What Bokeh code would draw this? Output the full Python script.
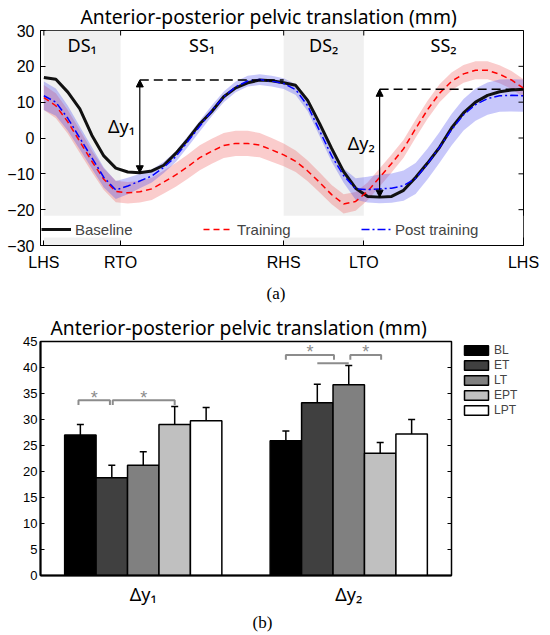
import numpy as np
from bokeh.plotting import figure
from bokeh.layouts import column
from bokeh.models import (Range1d, FixedTicker, Legend, LegendItem, Title,
                          Arrow, NormalHead, TeeHead, Whisker, ColumnDataSource)
from bokeh.core.properties import value
from bokeh.embed import file_html
from bokeh.resources import INLINE

# ---------------- panel (a) data ----------------
gait_pct = [0, 2.5, 5, 7.5, 10, 12.5, 15, 17.5, 20, 22.5, 25, 27.5, 30, 32.5, 35, 37.5,
            40, 42.5, 45, 47.5, 50, 52.5, 55, 57.5, 60, 62.5, 65, 67.5, 70, 72.5, 75,
            77.5, 80, 82.5, 85, 87.5, 90, 92.5, 95, 97.5, 100]
baseline = [16.9, 16.4, 12.8, 8.1, 0.8, -5.0, -8.4, -9.5, -9.7, -9.2, -7.6, -4.3, -0.4,
            3.9, 7.4, 11.5, 14.0, 15.4, 16.2, 16.0, 15.4, 14.7, 10.5, 4.0, -2.9, -9.4,
            -14.0, -16.3, -16.5, -16.3, -14.6, -11.0, -7.0, -2.6, 2.8, 7.0, 10.0, 11.9,
            12.9, 13.4, 13.6]
training = [11.3, 9.0, 4.5, -1.0, -6.5, -11.5, -14.9, -15.3, -15.0, -14.2, -12.3, -10.3,
            -8.0, -5.5, -3.7, -2.1, -1.5, -1.5, -2.0, -3.3, -4.7, -6.5, -9.2, -12.4,
            -15.8, -18.4, -17.7, -14.9, -11.0, -7.1, -3.0, 2.6, 7.9, 12.5, 15.8, 17.9,
            18.9, 18.9, 17.8, 16.2, 13.9]
training_sd = [3.5, 3.5, 3.3, 3.2, 3.0, 3.0, 3.0, 3.0, 3.0, 3.1, 3.2, 3.3, 3.4, 3.5, 3.5,
               3.5, 3.5, 3.5, 3.4, 3.3, 3.2, 3.0, 2.9, 2.8, 2.7, 2.7, 2.6, 2.5, 2.5, 2.5,
               2.5, 2.5, 2.5, 2.5, 2.5, 2.5, 2.5, 2.5, 2.5, 2.5, 2.5]
post = [11.8, 10.0, 5.5, 0.0, -5.5, -11.0, -14.5, -13.4, -12.0, -10.6, -8.2, -5.2, -1.0,
        3.3, 7.6, 11.5, 14.3, 15.9, 16.3, 15.9, 15.2, 13.5, 9.0, 2.0, -5.0, -10.5,
        -14.2, -14.4, -14.2, -14.0, -13.3, -11.3, -7.2, -2.6, 2.3, 6.5, 9.3, 11.0, 11.8,
        11.9, 11.8]
post_sd = [4.0, 3.8, 3.5, 3.2, 3.0, 2.8, 2.5, 2.3, 2.0, 1.8, 1.6, 1.5, 1.5, 1.5, 1.5,
           1.5, 1.5, 1.5, 1.5, 1.5, 1.5, 1.5, 1.5, 1.5, 1.6, 2.0, 3.0, 3.6, 4.0, 4.1,
           4.2, 4.3, 4.3, 4.3, 4.4, 4.4, 4.5, 4.5, 4.5, 4.5, 4.5]
event_pos = [0, 16, 50, 66.7, 100]
event_labels = ["LHS", "RTO", "RHS", "LTO", "LHS"]
phase_labels = ["DS\u2081", "SS\u2081", "DS\u2082", "SS\u2082"]
y_ticks_a = [-30, -20, -10, 0, 10, 20, 30]
legend_labels_a = ["Baseline", "Training", "Post training"]

# ---------------- panel (b) data ----------------
series = ["BL", "ET", "LT", "EPT", "LPT"]
bar_colors = ["#000000", "#404040", "#808080", "#c0c0c0", "#ffffff"]
group_labels = ["\u0394y\u2081", "\u0394y\u2082"]
dy1_mean = [27.0, 18.8, 21.2, 29.05, 29.75]
dy1_err = [2.05, 2.4, 2.6, 3.45, 2.55]
dy2_mean = [25.9, 33.2, 36.7, 23.5, 27.2]
dy2_err = [1.9, 3.6, 3.7, 2.1, 2.8]
y_ticks_b = [0, 5, 10, 15, 20, 25, 30, 35, 40, 45]
# significance brackets: group, from bar, to bar, level
sig_group = [1, 1, 2, 2]
sig_from = [-0.06, 1.03, 0.0, 2.05]
sig_to = [0.94, 3.0, 1.53, 3.03]
sig_level = [33.7, 33.7, 42.4, 42.4]
join_group, join_from, join_to, join_level = 2, 1.0, 2.0, 40.8

TITLE = "Anterior-posterior pelvic translation (mm)"
TICK_FONT = "Liberation Sans"
SANS = "Noto Sans"
SERIF = "Liberation Serif"


def style_axis(ax, font_size, standoff, tick_in=5, font=TICK_FONT, width=1):
    ax.major_tick_in = tick_in
    ax.major_tick_out = 0
    ax.minor_tick_line_color = None
    ax.axis_line_color = "black"
    ax.axis_line_width = width
    ax.major_tick_line_color = "black"
    ax.major_label_standoff = standoff
    ax.major_label_text_font = font
    ax.major_label_text_font_size = font_size
    ax.major_label_text_color = "black"


def style_title(p, offset):
    t = p.title
    t.text = TITLE
    t.align = "left"
    t.offset = offset
    t.vertical_align = "middle"
    t.standoff = 0
    t.text_font = SANS
    t.text_font_size = "19.3px"
    t.text_font_style = "normal"
    t.text_color = "black"


def add_caption(p, text, offset, standoff):
    p.add_layout(Title(text=text, align="left", offset=offset, vertical_align="middle",
                       standoff=standoff, text_font=SERIF, text_font_size="17px",
                       text_font_style="normal", text_color="black"), "below")


# ================= figure (a) =================
xa0, xa1 = -0.7, 100
pa = figure(frame_width=483, frame_height=215, x_range=Range1d(xa0, xa1),
            y_range=Range1d(y_ticks_a[0], y_ticks_a[-1]), title=TITLE,
            output_backend="svg", toolbar_location=None,
            min_border_left=40, min_border_right=19, min_border_top=30, min_border_bottom=66)
style_title(pa, 40)
pa.xgrid.grid_line_color = None
pa.ygrid.grid_line_color = None
pa.outline_line_color = "black"

# double-support shading, broken by the legend band
ds_left = [event_pos[0], event_pos[2]]
ds_right = [event_pos[1], event_pos[3]]
pa.quad(left=ds_left, right=ds_right, bottom=y_ticks_a[0], top=y_ticks_a[-1],
        fill_color="#f0f0f0", line_color=None)
pa.quad(left=[xa0], right=[xa1], bottom=[-27.8], top=[-21.7], fill_color="white",
        line_color=None)

# phase labels
phase_x = [(a + b) / 2 for a, b in zip(event_pos[:-1], event_pos[1:])]
pa.text(x=phase_x, y=[26] * 4, text=phase_labels, text_align="center",
        text_baseline="middle", text_font=value(SANS), text_font_size="18px",
        text_color="black")

g = np.array(gait_pct)
tr = np.array(training); trs = np.array(training_sd)
po = np.array(post); pos_ = np.array(post_sd)
pa.varea(x=g, y1=tr - trs, y2=tr + trs, fill_color="#ee5555", fill_alpha=0.3)
pa.varea(x=g, y1=po - pos_, y2=po + pos_, fill_color="#4444ee", fill_alpha=0.3)

rb = pa.line(gait_pct, baseline, line_color="#111111", line_width=3)
rt = pa.line(gait_pct, training, line_color="#ff0000", line_width=1.5, line_dash="6 4")
rp = pa.line(gait_pct, post, line_color="#0000ff", line_width=1.5, line_dash="8 3 2 3")

# delta-y annotations from baseline
b = np.array(baseline)
m1 = g <= event_pos[2]
i1 = np.argmin(np.where(m1, b, np.inf))
x1, ylo1 = g[i1], b[i1]
yhi1 = b[(g >= event_pos[1]) & (g <= event_pos[2])].max()
m2 = g >= event_pos[2]
i2 = np.argmin(np.where(m2, b, np.inf))
x2, ylo2 = g[i2], b[i2]
yhi2 = b[g >= event_pos[3]].max()

pa.segment(x0=[x1, x2], y0=[yhi1, yhi2], x1=[event_pos[2], event_pos[4]], y1=[yhi1, yhi2],
           line_color="black", line_width=1.5, line_dash="9 5")
for xx, lo, hi in [(x1, ylo1, yhi1), (x2, ylo2, yhi2)]:
    pa.add_layout(Arrow(x_start=xx, y_start=lo, x_end=xx, y_end=hi,
                        start=NormalHead(size=7, fill_color="black", line_color="black"),
                        end=NormalHead(size=7, fill_color="black", line_color="black"),
                        line_color="black", line_width=1.2))
pa.text(x=[x1 - 1, x2 - 1], y=[(ylo1 + yhi1) / 2, (ylo2 + yhi2) / 2],
        text=["\u0394y\u2081", "\u0394y\u2082"], text_align="right", text_baseline="middle",
        text_font=value(SANS), text_font_size="18px", text_color="black")

# mirrored tick marks (top and right edges)
pa.scatter(x=event_pos, y=[y_ticks_a[-1]] * len(event_pos), marker="dash", size=10,
           angle=np.pi / 2, line_color="black", line_width=1)
pa.scatter(x=[xa1] * len(y_ticks_a), y=y_ticks_a, marker="dash", size=10,
           line_color="black", line_width=1)

for lab, r, lx in zip(legend_labels_a, [rb, rt, rp], [1, 163, 321]):
    lg = Legend(items=[LegendItem(label=lab, renderers=[r])], location=(lx, 7),
                padding=2, margin=0, glyph_width=30, glyph_height=18, label_height=18,
                label_standoff=4, label_width=110, label_text_font=TICK_FONT,
                label_text_font_size="15px", background_fill_alpha=0,
                border_line_color=None)
    pa.add_layout(lg)

pa.xaxis.ticker = FixedTicker(ticks=event_pos)
pa.xaxis.major_label_overrides = {p: l for p, l in zip(event_pos, event_labels)}
style_axis(pa.xaxis[0], "16px", 8)
pa.yaxis.ticker = FixedTicker(ticks=y_ticks_a)
style_axis(pa.yaxis[0], "16px", 6)
add_caption(pa, "(a)", 226, 18)

# ================= figure (b) =================
pb = figure(frame_width=411, frame_height=234, x_range=Range1d(0.5, 2.5),
            y_range=Range1d(y_ticks_b[0], y_ticks_b[-1]), title=TITLE,
            output_backend="svg", toolbar_location=None,
            min_border_left=40, min_border_right=79, min_border_top=29, min_border_bottom=59)
style_title(pb, 10)
pb.xgrid.grid_line_color = None
pb.ygrid.grid_line_color = None
pb.outline_line_color = "black"
pb.outline_line_width = 1.5

group_pos = [1, 2]
bar_w = 0.153
means = [dy1_mean, dy2_mean]
errs = [dy1_err, dy2_err]
bar_renderers = []
wx, wlo, whi = [], [], []
for i, (s, c) in enumerate(zip(series, bar_colors)):
    xs = [gp + (i - 2) * bar_w for gp in group_pos]
    tops = [means[k][i] for k in range(2)]
    r = pb.vbar(x=xs, top=tops, bottom=0, width=bar_w, fill_color=c,
                line_color="black", line_width=1.5)
    bar_renderers.append(r)
    for k in range(2):
        wx.append(xs[k]); wlo.append(tops[k]); whi.append(tops[k] + errs[k][i])

wsrc = ColumnDataSource(dict(x=wx, lower=wlo, upper=whi))
pb.add_layout(Whisker(base="x", lower="lower", upper="upper", source=wsrc,
                      dimension="height", line_color="black", line_width=1.5,
                      upper_head=TeeHead(size=7, line_color="black", line_width=1.5),
                      lower_head=None, level="overlay"))


def bx(grp, idx):
    return grp + (idx - 2) * bar_w


bxs, bys, star_x, star_y = [], [], [], []
for grp, f, t, lev in zip(sig_group, sig_from, sig_to, sig_level):
    x0, x1_ = bx(grp, f), bx(grp, t)
    bxs.append([x0, x0, x1_, x1_])
    bys.append([lev - 0.9, lev, lev, lev - 0.9])
    star_x.append((x0 + x1_) / 2)
    star_y.append(lev + 0.5)
bxs.append([bx(join_group, join_from), bx(join_group, join_to)])
bys.append([join_level, join_level])
pb.multi_line(xs=bxs, ys=bys, line_color="#8c8c8c", line_width=2)
pb.text(x=star_x, y=star_y, text=["*"] * len(star_x), text_align="center",
        text_baseline="middle", text_font=value(TICK_FONT), text_font_size="18px",
        text_color="#8c8c8c")

pb.xaxis.ticker = FixedTicker(ticks=group_pos)
pb.xaxis.major_label_overrides = {gp: lab for gp, lab in zip(group_pos, group_labels)}
style_axis(pb.xaxis[0], "18px", 6, tick_in=0, font=SANS, width=2)
pb.yaxis.ticker = FixedTicker(ticks=y_ticks_b)
style_axis(pb.yaxis[0], "13px", 3, tick_in=4, width=2)
pb.scatter(x=[2.5] * len(y_ticks_b), y=y_ticks_b, marker="dash", size=8,
           line_color="black", line_width=1)

leg_b = Legend(items=[LegendItem(label=s, renderers=[r]) for s, r in zip(series, bar_renderers)],
               location=(10, 158), spacing=1, padding=0, margin=0,
               glyph_width=30, glyph_height=12, label_height=14, label_standoff=3,
               label_width=30, label_text_font=TICK_FONT, label_text_font_size="12px",
               background_fill_alpha=0, border_line_color=None)
pb.add_layout(leg_b, "right")
add_caption(pb, "(b)", 212, 7)

layout = column(pa, pb, spacing=0)
open("out.html", "w").write(file_html(layout, INLINE))
